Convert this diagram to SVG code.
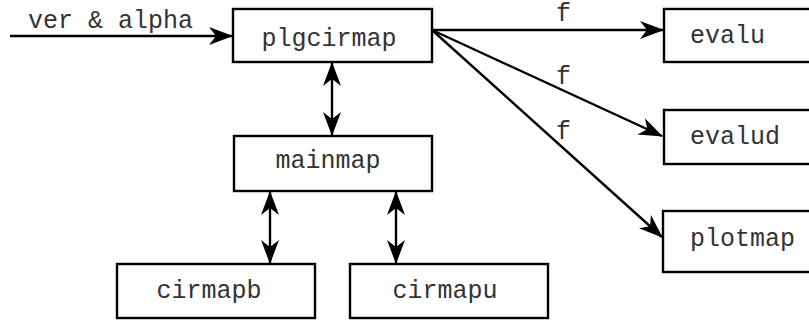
<svg xmlns="http://www.w3.org/2000/svg" width="809" height="320" viewBox="0 0 809 320">
<style>
.box{fill:#fff;stroke:#000;stroke-width:2.4}
.t{font-family:"Liberation Mono","Courier New",monospace;font-size:25px;fill:#333}
.c{text-anchor:middle}
.ln{stroke:#000;stroke-width:2.4;fill:none}
</style>
<defs>
<marker id="ah" viewBox="0 0 24 18" refX="23" refY="9" markerWidth="24" markerHeight="18" markerUnits="userSpaceOnUse" orient="auto-start-reverse">
<path d="M0,0 L24,9 L0,18 L7,9 Z" fill="#000"/>
</marker>
</defs>
<rect width="809" height="320" fill="#fff"/>
<g id="connectors">
<line class="ln" x1="10" y1="36" x2="232" y2="36" marker-end="url(#ah)"/>
<text class="t" x="28" y="28">ver &amp; alpha</text>
<line class="ln" x1="432" y1="30" x2="663" y2="30" marker-end="url(#ah)"/>
<text class="t" x="556" y="21">f</text>
<line class="ln" x1="432" y1="30" x2="662" y2="136" marker-end="url(#ah)"/>
<text class="t" x="556" y="84">f</text>
<line class="ln" x1="432" y1="30" x2="662" y2="237" marker-end="url(#ah)"/>
<text class="t" x="556" y="139">f</text>
<line class="ln" x1="332" y1="63" x2="332" y2="135" marker-start="url(#ah)" marker-end="url(#ah)"/>
<line class="ln" x1="270" y1="192" x2="270" y2="263" marker-start="url(#ah)" marker-end="url(#ah)"/>
<line class="ln" x1="396" y1="192" x2="396" y2="263" marker-start="url(#ah)" marker-end="url(#ah)"/>
</g>
<g id="plgcirmap"><rect class="box" x="233" y="9" width="199" height="53"/><text class="t c" x="329" y="46">plgcirmap</text></g>
<g id="mainmap"><rect class="box" x="234" y="136" width="198" height="55"/><text class="t c" x="328" y="168">mainmap</text></g>
<g id="cirmapb"><rect class="box" x="117" y="264" width="198" height="54"/><text class="t c" x="209" y="298">cirmapb</text></g>
<g id="cirmapu"><rect class="box" x="350" y="264" width="198" height="54"/><text class="t c" x="445" y="298">cirmapu</text></g>
<g id="evalu"><rect class="box" x="664" y="9" width="198" height="53"/><text class="t" x="690" y="43">evalu</text></g>
<g id="evalud"><rect class="box" x="664" y="110" width="198" height="54"/><text class="t" x="690" y="144">evalud</text></g>
<g id="plotmap"><rect class="box" x="663" y="211" width="198" height="61"/><text class="t" x="690" y="246">plotmap</text></g>
</svg>
